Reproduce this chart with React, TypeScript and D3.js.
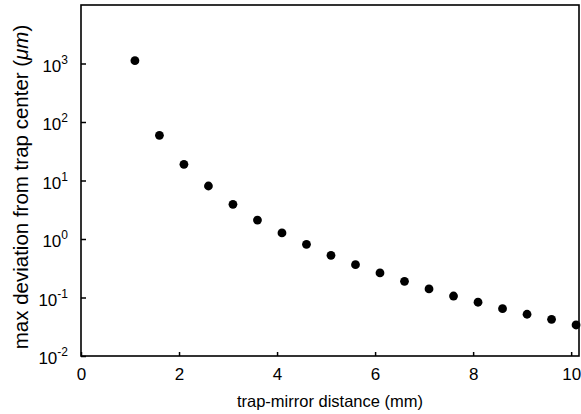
import React, { useEffect, useRef } from 'react';
import * as d3 from 'd3';

// trap-mirror distance (mm)
const distances = [1.1, 1.6, 2.1, 2.6, 3.1, 3.6, 4.1, 4.6, 5.1, 5.6, 6.1, 6.6, 7.1, 7.6, 8.1, 8.6, 9.1, 9.6, 10.1];
// max deviation from trap center (um)
const deviations = [1117, 59.3, 18.9, 8.05, 3.92, 2.11, 1.27, 0.81, 0.526, 0.364, 0.263, 0.189, 0.14, 0.106, 0.083, 0.0644, 0.0517, 0.0424, 0.0339];

const xTicks = [0, 2, 4, 6, 8, 10];
const yExponents = [-2, -1, 0, 1, 2, 3];

const WIDTH = 581;
const HEIGHT = 414;

const App = () => {
    const svgRef = useRef<SVGSVGElement>(null);

    useEffect(() => {
        const svg = d3.select(svgRef.current);
        svg.selectAll('*').remove();

        const margin = { top: 5, right: 2, bottom: 58, left: 81 };
        const innerWidth = WIDTH - margin.left - margin.right;
        const innerHeight = HEIGHT - margin.top - margin.bottom;
        const font = '"Liberation Sans", Arial, sans-serif';

        const g = svg.append('g')
            .attr('transform', `translate(${margin.left},${margin.top})`);

        const xScale = d3.scaleLinear()
            .domain([0, 10.16])
            .range([0, innerWidth]);

        const yScale = d3.scaleLog()
            .domain([1e-2, 1e4])
            .range([innerHeight, 0]);

        // frame
        g.append('rect')
            .attr('x', 0)
            .attr('y', 0)
            .attr('width', innerWidth)
            .attr('height', innerHeight)
            .attr('fill', 'none')
            .attr('stroke', '#000')
            .attr('stroke-width', 1.6);

        // x axis: ticks point inward
        const xAxis = d3.axisBottom(xScale)
            .tickValues(xTicks)
            .tickSize(-4)
            .tickPadding(12)
            .tickFormat(d => `${d}`);

        const xg = g.append('g')
            .attr('transform', `translate(0,${innerHeight})`)
            .call(xAxis);
        xg.select('.domain').remove();
        xg.selectAll('line').attr('stroke-width', 1.5);
        xg.selectAll('text')
            .attr('font-family', font)
            .attr('font-size', 17)
            .attr('fill', '#000');

        // y axis: powers of ten
        const yAxis = d3.axisLeft(yScale)
            .tickValues(yExponents.map(e => Math.pow(10, e)))
            .tickSize(-5)
            .tickFormat(() => '');

        const yg = g.append('g').call(yAxis);
        yg.select('.domain').remove();
        yg.selectAll('line').attr('stroke-width', 1.5);

        yExponents.forEach(e => {
            const t = g.append('text')
                .attr('x', -13)
                .attr('y', yScale(Math.pow(10, e)) + 8)
                .attr('text-anchor', 'end')
                .attr('font-family', font)
                .attr('font-size', 17)
                .attr('fill', '#000');
            t.append('tspan').text('10');
            t.append('tspan')
                .attr('font-size', 12)
                .attr('dy', -8)
                .text(`${e}`);
        });

        // data points
        const points = distances.map((d, i) => ({ x: d, y: deviations[i] }));
        g.selectAll('.dot')
            .data(points)
            .enter()
            .append('circle')
            .attr('class', 'dot')
            .attr('cx', d => xScale(d.x))
            .attr('cy', d => yScale(d.y))
            .attr('r', 4.4)
            .attr('fill', '#000');

        // axis titles
        svg.append('text')
            .attr('x', margin.left + innerWidth / 2)
            .attr('y', 407)
            .attr('text-anchor', 'middle')
            .attr('font-family', font)
            .attr('font-size', 16.5)
            .attr('fill', '#000')
            .text('trap-mirror distance (mm)');

        const yl = svg.append('text')
            .attr('transform', `translate(28,187) rotate(-90)`)
            .attr('text-anchor', 'middle')
            .attr('font-family', font)
            .attr('font-size', 20.5)
            .attr('fill', '#000');
        yl.append('tspan').text('max deviation from trap center (');
        yl.append('tspan').attr('font-style', 'italic').text('\u03bcm');
        yl.append('tspan').text(')');
    }, []);

    return (
        <svg
            ref={svgRef}
            width={WIDTH}
            height={HEIGHT}
            style={{ position: 'absolute', left: 0, top: 0, background: '#fff' }}
        />
    );
};

export default App;
